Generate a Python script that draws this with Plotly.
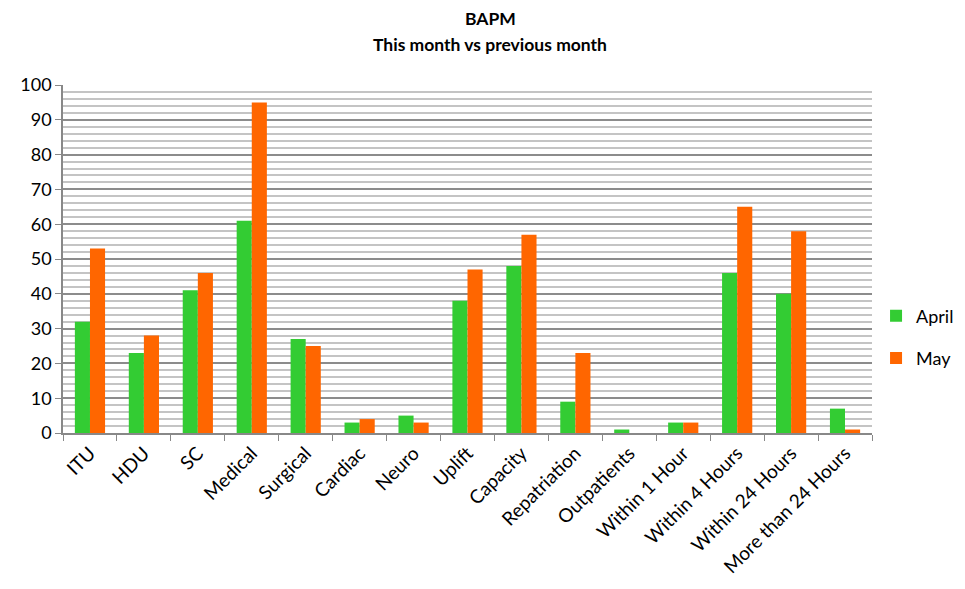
import plotly.graph_objects as go

categories = ["ITU", "HDU", "SC", "Medical", "Surgical", "Cardiac", "Neuro", "Uplift",
              "Capacity", "Repatriation", "Outpatients", "Within 1 Hour", "Within 4 Hours",
              "Within 24 Hours", "More than 24 Hours"]
april = [32, 23, 41, 61, 27, 3, 5, 38, 48, 9, 1, 3, 46, 40, 7]
may = [53, 28, 46, 95, 25, 4, 3, 47, 57, 23, 0, 3, 65, 58, 1]
y_ticks = [0, 10, 20, 30, 40, 50, 60, 70, 80, 90, 100]

font_family = "Lato, 'Open Sans', sans-serif"

fig = go.Figure()
fig.add_trace(go.Bar(x=categories, y=april, name="April", marker_color="#33CC33",
                     marker_line_width=0, legendgroup="a"))
fig.add_trace(go.Bar(x=categories, y=may, name="May", marker_color="#FF6600",
                     marker_line_width=0, legendgroup="b"))

fig.update_layout(
    width=957, height=581,
    margin=dict(l=55, r=93, t=77, b=156, autoexpand=False),
    paper_bgcolor="white", plot_bgcolor="white",
    barmode="group", bargap=0.44, bargroupgap=0,
    font=dict(family=font_family, size=16, color="#000000"),
    legend=dict(x=1.005, xanchor="left", y=0.276, yanchor="middle",
                font=dict(size=18), tracegroupgap=16, itemwidth=30,
                bgcolor="rgba(0,0,0,0)"),
    showlegend=True,
    annotations=[
        dict(text="<b>BAPM</b>", xref="paper", yref="paper", x=0.528, y=(433 - 18) / 348,
             showarrow=False, xanchor="center", yanchor="middle", font=dict(size=17.5)),
        dict(text="<b>This month vs previous month</b>", xref="paper", yref="paper",
             x=0.528, y=(433 - 45) / 348,
             showarrow=False, xanchor="center", yanchor="middle", font=dict(size=17.5)),
    ],
)
fig.update_xaxes(
    type="category", tickangle=-45, tickson="boundaries",
    ticks="outside", ticklen=6, tickcolor="#888888",
    showline=True, linecolor="#888888", linewidth=1.5,
    showgrid=False, tickfont=dict(size=19), automargin=False,
)
fig.update_yaxes(
    range=[0, 100], tickvals=y_ticks, ticks="outside", ticklen=6, tickcolor="#888888",
    showline=True, linecolor="#888888", linewidth=1.5,
    showgrid=True, gridcolor="#8c8c8c", gridwidth=1.5,
    minor=dict(dtick=2, showgrid=True, gridcolor="#c4c4c4", gridwidth=1.5),
    tickfont=dict(size=18), zeroline=False, automargin=False,
)
fig.write_html("out.html")
